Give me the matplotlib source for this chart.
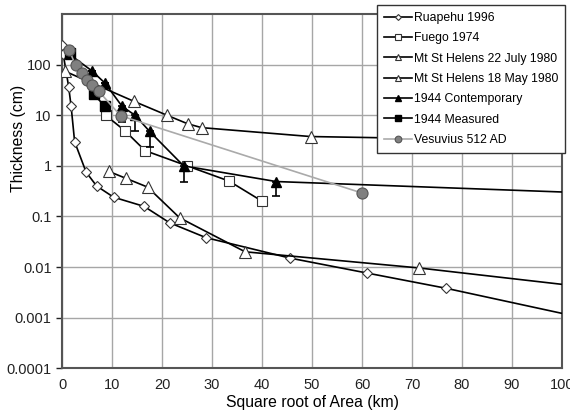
import matplotlib.pyplot as plt
from matplotlib.lines import Line2D

plt.rcParams['font.family'] = ['Liberation Sans', 'DejaVu Sans']

# data (x = square root of area, km; y = thickness, cm)
ruapehu_x = [0.0, 0.2, 1.3, 1.8, 2.5, 4.8, 6.9, 10.3, 16.4, 21.5, 28.8, 45.6, 61.0, 76.8, 110]
ruapehu_y = [250, 166, 37, 15, 3.0, 0.75, 0.4, 0.24, 0.158, 0.075, 0.038, 0.015, 0.0076, 0.0038, 0.00074]

fuego_x = [8.7, 12.5, 16.6, 25.0, 33.4, 40.0]
fuego_y = [10, 5.0, 2.0, 1.0, 0.5, 0.2]

msh_july_x = [9.3, 12.7, 17.1, 23.5, 36.6, 71.3, 110]
msh_july_y = [0.78, 0.57, 0.38, 0.094, 0.02, 0.0096, 0.0035]

msh_may_x = [0.6, 14.3, 21.0, 25.1, 27.9, 49.7, 110]
msh_may_y = [74, 19, 10, 6.8, 5.7, 3.8, 3.0]

cont_x = [1.5, 6.0, 8.6, 12.0, 14.6, 17.5, 24.3, 42.8, 110]
cont_y = [160, 75, 43, 15, 10, 4.8, 1.0, 0.49, 0.28]
cont_err = [0, 0, 0, 7.5, 5.1, 2.4, 0.52, 0.24, 0]

meas_x = [1.6, 6.3, 8.6]
meas_y = [170, 26, 15]

vesuv_x = [1.4, 2.7, 3.9, 4.9, 5.9, 7.3, 11.7, 60.0]
vesuv_y = [195, 97, 70, 49, 39, 30, 9.8, 0.29]

fig = plt.figure(figsize=(5.7, 4.16), dpi=100)
ax = fig.add_axes([0.109, 0.115, 0.877, 0.851])

lw = 1.2
white = dict(color='black', lw=lw, mfc='white', mec='#333333', mew=0.8)
h1, = ax.plot(ruapehu_x, ruapehu_y, '-D', ms=5, label='Ruapehu 1996', zorder=3, **white)
h2, = ax.plot(fuego_x, fuego_y, '-s', ms=7, label='Fuego 1974', zorder=3, **white)
h3, = ax.plot(msh_july_x, msh_july_y, '-^', ms=8, label='Mt St Helens 22 July 1980', zorder=3, **white)
h4, = ax.plot(msh_may_x, msh_may_y, '-^', ms=8, label='Mt St Helens 18 May 1980', zorder=3, **white)
ax.errorbar(cont_x, cont_y, yerr=[cont_err, [0] * len(cont_err)], fmt='-^', color='black', lw=lw,
            ms=7, elinewidth=1.2, capsize=3, capthick=1.2, zorder=4)
h5 = Line2D([], [], color='black', lw=lw, marker='^', ms=7, label='1944 Contemporary')
h6, = ax.plot(meas_x, meas_y, '-s', color='black', lw=lw, ms=6.5, label='1944 Measured', zorder=4)
h7, = ax.plot(vesuv_x, vesuv_y, '-o', color='#aaaaaa', lw=lw, ms=8, mfc='#808080', mec='#555555',
              mew=0.8, label='Vesuvius 512 AD', zorder=5)

ax.set_yscale('log')
ax.set_xlim(0, 100)
ax.set_ylim(0.0001, 1000)
ax.set_xticks(range(0, 101, 10))
ax.set_yticks([0.0001, 0.001, 0.01, 0.1, 1, 10, 100])
ax.set_yticklabels(['0.0001', '0.001', '0.01', '0.1', '1', '10', '100'])
ax.minorticks_off()
ax.grid(True, color='#a6a6a6', lw=1.0)
ax.set_axisbelow(True)
for s in ax.spines.values():
    s.set_color('#555555')
    s.set_linewidth(1.5)
ax.tick_params(axis='both', labelsize=10.5, colors='#222222', length=4, width=1)
ax.tick_params(axis='x', length=0, pad=7)

ax.set_xlabel('Square root of Area (km)', fontsize=11.3, labelpad=2)
ax.set_ylabel('Thickness (cm)', fontsize=11.3)
ax.yaxis.set_label_coords(-0.073, 0.65)

leg = ax.legend(handles=[h1, h2, h3, h4, h5, h6, h7], loc='upper right',
                bbox_to_anchor=(1.006, 1.025), borderaxespad=0, fontsize=8.8, frameon=True,
                fancybox=False, edgecolor='#333333', framealpha=1, handlelength=2.3,
                handletextpad=0.15, labelspacing=0.68, borderpad=0.55, markerscale=0.6)
leg.get_frame().set_linewidth(1.0)
leg.set_zorder(10)

fig.savefig('out.png', dpi=100)
